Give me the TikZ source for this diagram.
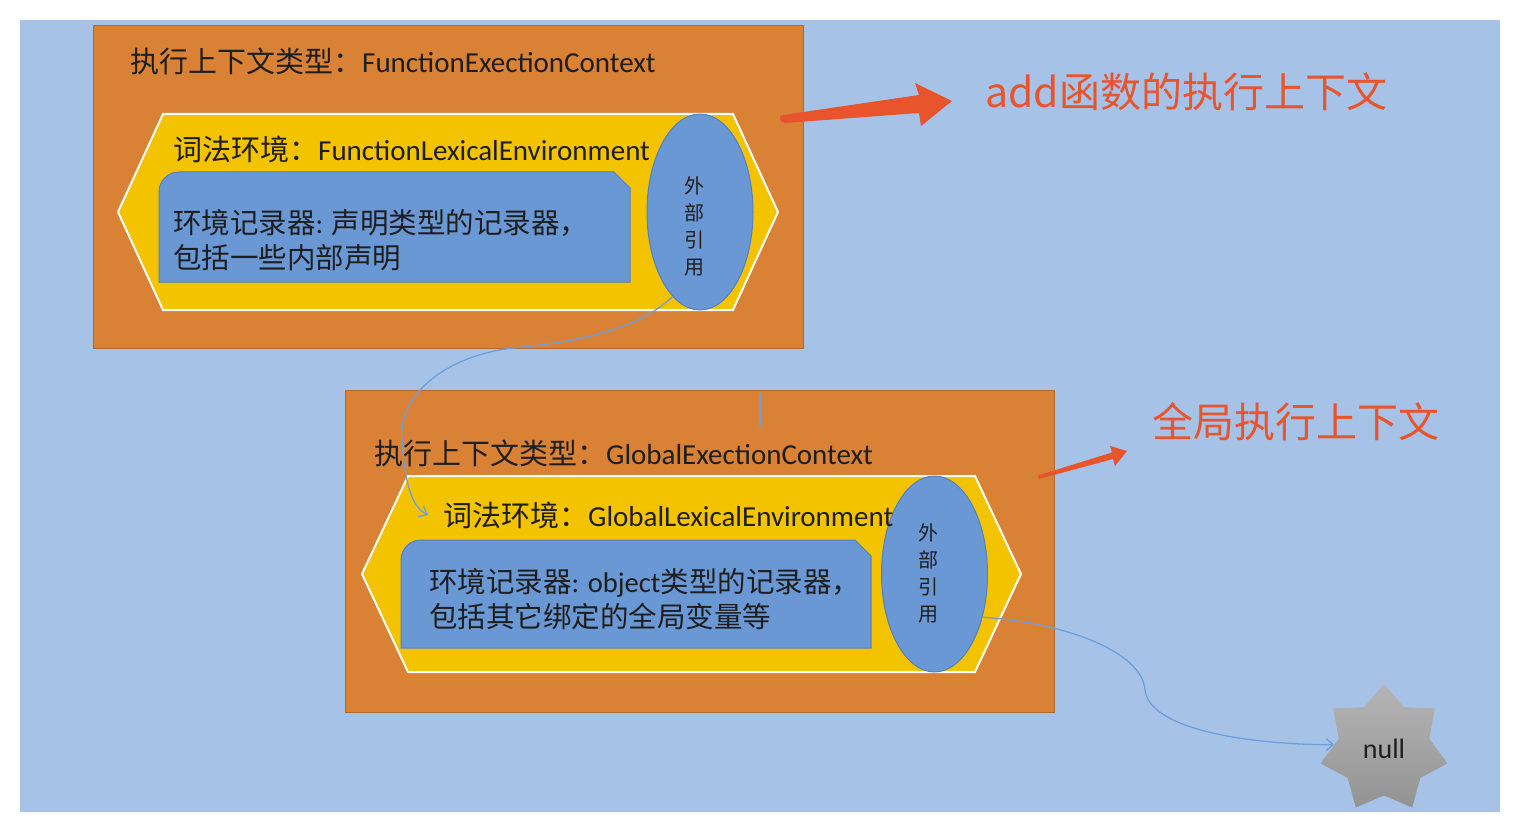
\documentclass[tikz,border=0pt]{standalone}
\usepackage{fontspec}
\setmainfont{Carlito}
\newfontfamily\cjk{Noto Sans CJK SC}
\usetikzlibrary{shapes.geometric,arrows.meta}
\definecolor{bgblue}{HTML}{A6C3E7}
\definecolor{ctxorange}{HTML}{D98236}
\definecolor{ctxborder}{HTML}{B5682A}
\definecolor{lexyellow}{HTML}{F4C300}
\definecolor{recblue}{HTML}{6A98D5}
\definecolor{recborder}{HTML}{5080C0}
\definecolor{labelred}{HTML}{E8542C}
\definecolor{linkblue}{HTML}{6E9EDC}
\definecolor{textdark}{HTML}{1E1E1E}
\tikzset{
  ctxbox/.style={rectangle, draw=ctxborder, fill=ctxorange, line width=1pt, inner sep=0pt},
  lexhex/.style={fill=lexyellow, draw=white, line width=2pt, line join=miter},
  recshape/.style={fill=recblue, draw=recborder, line width=1pt},
  outref/.style={ellipse, draw=recborder, fill=recblue, line width=1pt, inner sep=0pt,
    minimum width=106pt, minimum height=196pt},
  outtext/.style={inner sep=0pt, align=center, text=textdark,
    font=\cjk\fontsize{20}{27}\selectfont},
  headtext/.style={anchor=west, inner sep=0pt, text=textdark, font=\fontsize{29}{34}\selectfont},
  rectext/.style={anchor=west, inner sep=0pt, text=textdark, align=left, font=\fontsize{28.5}{34.5}\selectfont},
  redlabel/.style={anchor=west, inner sep=0pt, text=labelred, font=\cjk\fontsize{41}{48}\selectfont},
  redarrow/.style={fill=labelred, draw=none},
  link/.style={draw=linkblue, line width=1.3pt, -{Straight Barb[length=7pt,width=12pt]}},
  nullstar/.style={star, star points=7, star point ratio=1.4, minimum size=130pt, inner sep=0pt,
    top color=gray!58, bottom color=gray!85, draw=none, text=textdark, font=\fontsize{28}{32}\selectfont}
}
\begin{document}
\begin{tikzpicture}[x=1pt,y=-1pt]
\useasboundingbox (0,0) rectangle (1524,832);
\fill[bgblue] (20,20) rectangle (1500,812);

% ---------- function execution context ----------
\node[ctxbox, minimum width=710pt, minimum height=322pt] (ctx1) at (448,187) {};
\path[lexhex] (118,212) -- (163,114) -- (733,114) -- (778,212) -- (733,310) -- (163,310) -- cycle;
\path[recshape] (159,282) -- (159,192) arc[start angle=180, end angle=270, radius=20] -- (614,172) -- (630,188) -- (630,282) -- cycle;
\node[outref] (e1) at (700,212) {};
\node[outtext] (e1t) at (694,226) {外\\部\\引\\用};
\node[headtext] (h1) at (130,61) {{\cjk 执行上下文类型：}FunctionExectionContext};
\node[headtext] (l1) at (173,149) {{\cjk 词法环境：}FunctionLexicalEnvironment};
\node[rectext] (r1) at (173,240) {{\cjk 环境记录器}: {\cjk 声明类型的记录器，}\\{\cjk 包括一些内部声明}};

% ---------- global execution context ----------
\node[ctxbox, minimum width=709pt, minimum height=322pt] (ctx2) at (699.5,551) {};
\draw[linkblue, line width=1.5pt] (760,393) coordinate (tickA) -- (760,427) coordinate (tickB);
\path[lexhex] (362,574) -- (408,476) -- (975,476) -- (1021,574) -- (975,672) -- (408,672) -- cycle;
\path[recshape] (401,648) -- (401,560) arc[start angle=180, end angle=270, radius=20] -- (855,540) -- (871,556) -- (871,648) -- cycle;
\node[outref] (e2) at (934.5,574) {};
\node[outtext] (e2t) at (928,573) {外\\部\\引\\用};
\node[headtext] (h2) at (374,453) {{\cjk 执行上下文类型：}GlobalExectionContext};
\node[headtext] (l2) at (443,515) {{\cjk 词法环境：}GlobalLexicalEnvironment};
\node[rectext] (r2) at (429,599) {{\cjk 环境记录器}: object{\cjk 类型的记录器，}\\{\cjk 包括其它绑定的全局变量等}};

% ---------- labels and red arrows ----------
\node[redlabel] (lab1) at (985,92) {add函数的执行上下文};
\node[redlabel] (lab2) at (1152,422) {全局执行上下文};
\path[redarrow] (783,115) -- (919,95) -- (915,83) -- (952,101) -- (921,126) -- (919,113) -- (785,123) .. controls (779,123) and (778,115) .. (783,115) -- cycle;
\path[redarrow] (1038,475.5) -- (1112,452.5) -- (1110,446) -- (1127,451) -- (1115,466) -- (1113,459) -- (1039,479) -- cycle;

% ---------- null ----------
\node[nullstar] (nul) at (1384,749) {null};

% ---------- outer references ----------
\coordinate (lexin) at (428,515);
\draw[link] (e1.252) .. controls (635,333) and (565,343) .. (513,348)
  .. controls (445,356) and (398,395) .. (402,440)
  .. controls (405,485) and (412,507) .. (lexin);
\draw[link] (e2.-42) .. controls (1060,622) and (1142,650) .. (1145,690)
  .. controls (1150,732) and (1260,745) .. (nul.175);
\end{tikzpicture}
\end{document}
